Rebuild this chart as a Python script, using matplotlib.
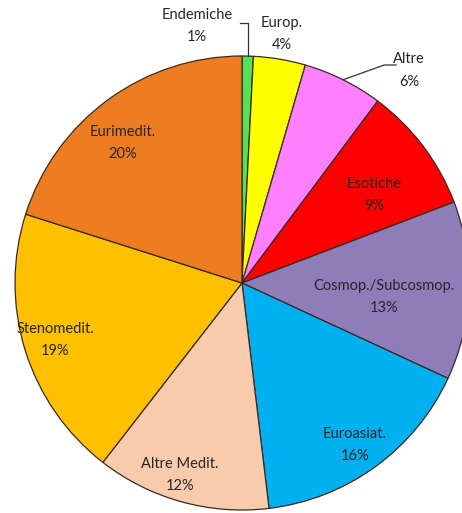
import matplotlib.pyplot as plt
import numpy as np

labels = ['Endemiche', 'Europ.', 'Altre', 'Esotiche', 'Cosmop./Subcosmop.',
          'Euroasiat.', 'Altre Medit.', 'Stenomedit.', 'Eurimedit.']
values = [0.8, 3.7, 5.7, 9.0, 12.7, 16.2, 12.4, 19.4, 20.1]
colors = ['#55E055', '#FFFF00', '#FF80FF', '#FF0000', '#8F7DBA',
          '#00B0F0', '#F8CBAD', '#FFC000', '#EE7D22']
# label distance (in radii) and small angular nudge (deg) per slice
label_dist = [1.15, 1.11, 1.19, 0.70, 0.63, 0.87, 0.89, 0.86, 0.81]
label_nudge = [11.3, 0.5, -11.7, -3.6, -3.6, -1.1, -2.5, -0.4, 4.2]

W, H = 462, 513
cx, cy, R = 242, H - 283, 227

fig = plt.figure(figsize=(W / 100, H / 100), dpi=100)
ax = fig.add_axes([0, 0, 1, 1])

wedges, _ = ax.pie(values, colors=colors, startangle=90, counterclock=False,
                   center=(cx, cy), radius=R,
                   wedgeprops=dict(edgecolor='#3a2a20', linewidth=0.9))
ax.set_xlim(0, W)
ax.set_ylim(0, H)
ax.set_aspect('equal')
ax.axis('off')

for i, w in enumerate(wedges):
    ang = np.deg2rad((w.theta1 + w.theta2) / 2 + label_nudge[i])
    x = cx + label_dist[i] * R * np.cos(ang)
    y = cy + label_dist[i] * R * np.sin(ang)
    ax.text(x, y, f"{labels[i]}\n{values[i]:.0f}%", ha='center', va='center',
            fontsize=10.5, family='Lato', color='#262626', linespacing=1.75)

# leader lines for the outside labels
ang = np.deg2rad((wedges[0].theta1 + wedges[0].theta2) / 2)
ex, ey = cx + R * np.cos(ang), cy + R * np.sin(ang)
ax.plot([ex - 8, ex, ex], [H - 23, H - 23, ey], color='#333333', lw=0.9)
ang = np.deg2rad((wedges[2].theta1 + wedges[2].theta2) / 2)
ex, ey = cx + R * np.cos(ang), cy + R * np.sin(ang)
ax.plot([ex, ex + 41, ex + 53], [ey, H - 65, H - 65], color='#333333', lw=0.9)

fig.savefig('out.png', dpi=100)
